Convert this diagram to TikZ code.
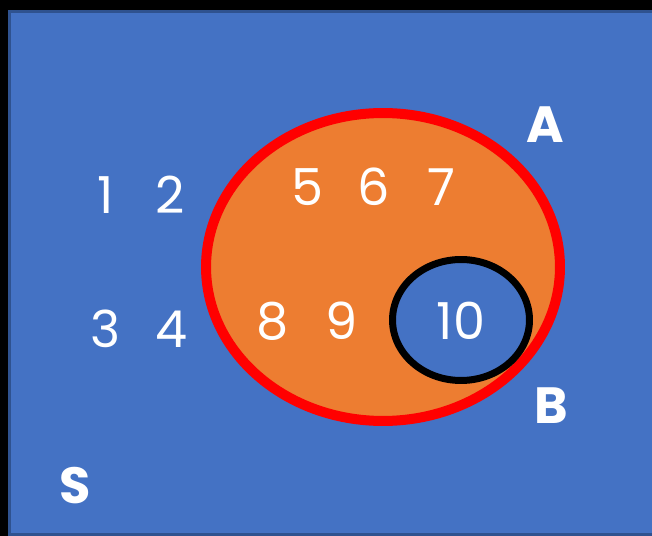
\documentclass[tikz,border=0pt]{standalone}
\usepackage{fontspec}
\setmainfont{Poppins}
\usetikzlibrary{shapes.geometric}
\definecolor{sea}{RGB}{68,114,196}
\definecolor{seaedge}{RGB}{47,82,143}
\definecolor{tangerine}{RGB}{237,125,49}
\definecolor{scarlet}{RGB}{255,0,0}
\tikzset{
  num/.style={text=white,font=\fontsize{29}{34}\selectfont,inner sep=0pt},
  setname/.style={text=white,font=\fontsize{29}{34}\selectfont\bfseries,inner sep=0pt},
  setring/.style={ellipse,draw=#1,fill=tangerine,line width=0.2cm,inner sep=0pt},
}
\begin{document}
\begin{tikzpicture}[x=0.02cm,y=-0.02cm]
  \fill[black] (0,0) rectangle (652,536);
  \useasboundingbox (0,0) rectangle (652,536);
  \draw[seaedge,fill=sea,line width=0.06cm] (9.5,11.5) rectangle (660,534.5);
  % the sets
  \node[setring=scarlet,minimum width=7.08cm,minimum height=6.16cm] (setA) at (383,267) {};
  \node[setring=black,fill=sea,line width=0.14cm,minimum width=2.74cm,minimum height=2.42cm] (setB) at (461,320) {};
  % elements
  \node[num] (n1) at (106,195) {1};
  \node[num] (n2) at (170,195) {2};
  \node[num] (n3) at (106,329) {3};
  \node[num] (n4) at (172,329) {4};
  \node[num] (n5) at (307,187) {5};
  \node[num] (n6) at (374,187) {6};
  \node[num] (n7) at (441,187) {7};
  \node[num] (n8) at (273,321) {8};
  \node[num] (n9) at (342,321) {9};
  \node[num] (n10) at (461,321) {10};
  \node[setname] (lblA) at (545,125) {A};
  \node[setname] (lblB) at (551,406) {B};
  \node[setname] (lblS) at (75,486) {S};
\end{tikzpicture}
\end{document}
